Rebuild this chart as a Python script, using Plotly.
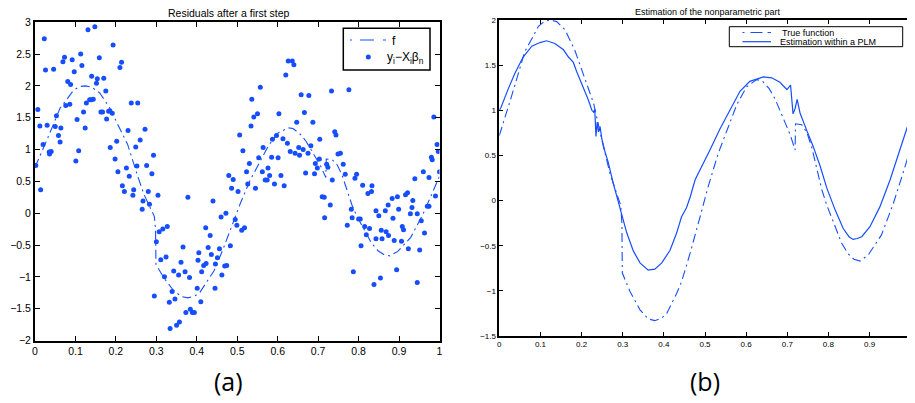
import plotly.graph_objects as go

# ---------------- data ----------------
# true nonparametric function f
f_x = [0.0, 0.01, 0.026, 0.038, 0.05, 0.062, 0.080, 0.095, 0.111, 0.125, 0.14, 0.16,
       0.184, 0.208, 0.229, 0.253, 0.269, 0.289, 0.295, 0.298, 0.299, 0.306, 0.318,
       0.342, 0.362, 0.378, 0.395, 0.407, 0.431, 0.443, 0.464, 0.488, 0.508, 0.532,
       0.553, 0.569, 0.577, 0.601, 0.626, 0.638, 0.656, 0.670, 0.690, 0.707, 0.719,
       0.720, 0.735, 0.747, 0.759, 0.771, 0.784, 0.796, 0.816, 0.832, 0.848, 0.862,
       0.877, 0.897, 0.913, 0.929, 0.944, 0.958, 0.981, 0.994, 1.0]
f_y = [0.72, 0.86, 1.10, 1.28, 1.47, 1.65, 1.80, 1.93, 1.99, 2.00, 1.98, 1.89,
       1.66, 1.34, 1.08, 0.60, 0.30, 0.03, -0.05, -0.25, -0.80, -0.88, -1.01,
       -1.21, -1.31, -1.33, -1.30, -1.25, -1.03, -0.90, -0.58, -0.18, 0.16, 0.52,
       0.78, 0.97, 1.06, 1.26, 1.34, 1.33, 1.24, 1.13, 0.91, 0.73, 0.56,
       0.85, 0.84, 0.76, 0.60, 0.36, 0.12, -0.05, -0.29, -0.47, -0.59, -0.65,
       -0.67, -0.60, -0.49, -0.38, -0.20, -0.03, 0.30, 0.50, 0.58]

# estimation within a PLM (right panel, solid)
est_x = [0.0, 0.004, 0.022, 0.038, 0.058, 0.079, 0.099, 0.115, 0.135, 0.156, 0.168,
         0.172, 0.176, 0.180, 0.188, 0.204, 0.216, 0.225, 0.229, 0.232, 0.235, 0.238,
         0.241, 0.245, 0.249, 0.257, 0.265, 0.277, 0.293, 0.310, 0.326, 0.342, 0.362,
         0.378, 0.395, 0.415, 0.431, 0.443, 0.455, 0.464, 0.476, 0.492, 0.512, 0.536,
         0.561, 0.585, 0.609, 0.642, 0.662, 0.682, 0.699, 0.708, 0.714, 0.719, 0.724,
         0.731, 0.747, 0.763, 0.780, 0.796, 0.816, 0.836, 0.850, 0.860, 0.870, 0.881,
         0.901, 0.925, 0.950, 0.974, 1.0]
est_y = [1.00, 1.03, 1.24, 1.41, 1.59, 1.71, 1.75, 1.77, 1.74, 1.67, 1.59,
         1.57, 1.56, 1.53, 1.43, 1.26, 1.12, 1.00, 0.98, 1.01, 0.71, 0.87,
         0.76, 0.82, 0.69, 0.54, 0.42, 0.19, -0.07, -0.36, -0.56, -0.69, -0.77,
         -0.76, -0.69, -0.55, -0.36, -0.18, -0.08, 0.04, 0.23, 0.37, 0.56, 0.79,
         1.01, 1.21, 1.32, 1.37, 1.36, 1.31, 1.23, 1.28, 0.96, 1.02, 1.12,
         0.97, 0.78, 0.60, 0.38, 0.14, -0.10, -0.31, -0.40, -0.43, -0.42, -0.40,
         -0.29, -0.07, 0.23, 0.56, 0.93]

# residuals y_i - X_i beta_n (left panel, dots)
res_x = [0.002, 0.007, 0.012, 0.014, 0.020, 0.023, 0.026, 0.030, 0.035, 0.036, 0.040,
         0.046, 0.050, 0.053, 0.058, 0.062, 0.064, 0.069, 0.073, 0.076, 0.081, 0.086,
         0.088, 0.092, 0.097, 0.101, 0.104, 0.108, 0.113, 0.116, 0.120, 0.124, 0.127,
         0.131, 0.135, 0.139, 0.144, 0.140, 0.148, 0.152, 0.154, 0.159, 0.163, 0.167,
         0.170, 0.175, 0.177, 0.182, 0.185, 0.186, 0.191, 0.193, 0.198, 0.202, 0.205,
         0.210, 0.214, 0.216, 0.221, 0.226, 0.230, 0.233, 0.238, 0.242, 0.244, 0.249,
         0.254, 0.252,
         0.272, 0.260, 0.293, 0.276, 0.289, 0.280, 0.304, 0.267, 0.283, 0.265, 0.378,
         0.440, 0.506, 0.479, 0.490, 0.486, 0.502, 0.472, 0.460, 0.495, 0.499, 0.422,
         0.327, 0.316, 0.307, 0.300, 0.433, 0.483, 0.366, 0.428, 0.405, 0.456, 0.324,
         0.311, 0.436, 0.403, 0.361, 0.423, 0.417, 0.451, 0.446, 0.469, 0.474, 0.343,
         0.371, 0.355, 0.382, 0.320, 0.412, 0.462, 0.339, 0.401, 0.445, 0.295, 0.346,
         0.332, 0.410, 0.384, 0.373, 0.389, 0.394, 0.357, 0.350, 0.334,
         0.514, 0.530, 0.523, 0.526, 0.545, 0.518, 0.511, 0.557, 0.536, 0.541, 0.550,
         0.534, 0.564, 0.553, 0.585, 0.601, 0.576, 0.562, 0.580, 0.569, 0.574, 0.592,
         0.608, 0.616, 0.587, 0.597, 0.613, 0.603, 0.624, 0.620, 0.626, 0.636, 0.640,
         0.631, 0.643, 0.647, 0.652, 0.654, 0.658, 0.666, 0.663, 0.675, 0.677, 0.682,
         0.687, 0.669, 0.691, 0.693, 0.698, 0.703, 0.704, 0.710, 0.715, 0.716, 0.730,
         0.733, 0.721, 0.724, 0.735, 0.741, 0.744, 0.749, 0.755,
         0.776, 0.762, 0.767, 0.791, 0.795, 0.810, 0.833, 0.832, 0.823, 0.782, 0.784,
         0.772, 0.800, 0.804, 0.815, 0.827, 0.806, 0.787, 0.819, 0.843, 0.850, 0.856,
         0.843, 0.858, 0.868, 0.874, 0.866, 0.873, 0.883, 0.885, 0.888, 0.896, 0.899,
         0.906, 0.908, 0.911, 0.916, 0.921, 0.934, 0.928, 0.932, 0.923, 0.939, 0.945,
         0.955, 0.951, 0.963, 0.960, 0.945, 0.970, 0.974, 0.974, 0.980, 0.982, 0.990,
         0.986, 0.994, 0.997, 0.838, 0.854, 0.894, 1.0]
res_y = [0.75, 1.63, 1.37, 0.37, 1.08, 2.74, 2.25, 1.38, 0.96, 0.93, 0.97,
         2.26, 1.36, 1.53, 1.22, 1.12, 1.34, 2.38, 2.45, 1.69, 2.07, 1.71,
         2.02, 2.41, 2.22, 0.82, 1.47, 0.98, 2.50, 2.32, 1.59, 1.34, 1.73,
         2.88, 1.78, 1.78, 1.79, 2.15, 2.93, 2.04, 2.11, 2.44, 1.59, 1.59,
         2.12, 1.92, 1.48, 1.60, 1.61, 1.03, 1.57, 2.64, 0.85, 1.13, 0.65,
         2.29, 2.37, 0.43, 0.34, 0.71, 1.30, 0.58, 1.73, 0.28, 0.37, 1.04,
         1.73, 0.74,
         1.32, 1.15, 0.91, 0.75, 0.62, 0.34, 0.28, 0.19, 0.14, 0.06, 0.25,
         0.19, 1.23, 0.59, 0.53, 0.39, 0.34, 0.00, -0.06, -0.10, -0.19, -0.23,
         -0.21, -0.25, -0.29, -0.45, -0.35, -0.51, -0.53, -0.54, -0.62, -0.56, -0.69,
         -0.73, -0.65, -0.74, -0.77, -0.79, -0.82, -0.70, -0.80, -0.83, -0.82, -0.91,
         -0.92, -0.97, -1.01, -1.00, -0.92, -0.97, -1.23, -1.18, -1.18, -1.30, -1.35,
         -1.40, -1.39, -1.51, -1.56, -1.56, -1.56, -1.71, -1.76, -1.81,
         0.98, 0.78, 0.65, 0.46, 0.39, -0.23, -0.27, 1.98, 1.79, 1.51, 1.56,
         1.37, 1.03, 0.87, 0.88, 0.87, 0.71, 0.65, 0.59, 0.52, 0.52, 0.46,
         0.59, 0.43, 1.16, 1.22, 1.17, 1.56, 1.10, 2.17, 2.39, 2.39, 2.33,
         0.97, 0.94, 1.43, 1.03, 0.91, 1.86, 1.58, 1.00, 0.94, 1.85, 1.06,
         1.43, 0.63, 0.62, 0.78, 0.71, 0.85, 1.16, 0.26, 0.25, -0.07, 0.13,
         1.92, 0.77, 0.72, 0.52, 1.28, 1.23, 0.93, 0.94,
         1.94, 0.77, 0.61, 0.55, 0.61, 0.44, 0.43, 0.34, 0.31, 0.06, -0.07,
         -0.19, -0.09, -0.09, -0.21, -0.24, -0.51, -0.92, -0.34, 0.04, -0.04, -0.27,
         -0.40, -0.40, -0.29, -0.35, 0.04, 0.13, 0.23, -0.08, -0.43, 0.26, 0.06,
         -0.44, -0.21, -0.26, 0.29, 0.32, 0.20, -0.01, 0.09, -0.56, 0.54, -0.01,
         -0.12, -0.58, -0.31, 0.65, -1.09, 0.11, 0.11, 0.56, 0.88, 0.84, 0.27,
         1.51, 1.08, 0.97, -1.12, -1.02, -0.89, 0.65]

left_title = "Residuals after a first step"
right_title = "Estimation of the nonparametric part"
left_names = ["f", "y<sub>i</sub>\u2212X<sub>i</sub>\u03b2<sub>n</sub>"]
right_names = ["True function", "Estimation within a PLM"]

# ---------------- figure ----------------
# the page body adds an 8px margin, so the figure is laid out 8px smaller
OFF = 8
W, H = 915 - OFF, 403 - OFF


def px(x):
    return (x - OFF) / W


def py(y):
    return 1 - (y - OFF) / H


BLUE = "rgb(22,78,255)"
DASHDOT = "9px,4px,2px,4px"
FONT = "Liberation Sans, Arial, sans-serif"

fig = go.Figure()

fig.add_trace(go.Scatter(x=f_x, y=f_y, mode="lines", name=left_names[0],
                         line=dict(color=BLUE, width=1.1, dash=DASHDOT),
                         xaxis="x", yaxis="y"))
fig.add_trace(go.Scatter(x=res_x, y=res_y, mode="markers", name=left_names[1],
                         marker=dict(color=BLUE, size=5),
                         xaxis="x", yaxis="y"))
fig.add_trace(go.Scatter(x=f_x, y=f_y, mode="lines", name=right_names[0],
                         line=dict(color=BLUE, width=1.1, dash=DASHDOT),
                         xaxis="x2", yaxis="y2"))
fig.add_trace(go.Scatter(x=est_x, y=est_y, mode="lines", name=right_names[1],
                         line=dict(color=BLUE, width=1.2),
                         xaxis="x2", yaxis="y2"))


def ax(domain, rng, dtick, size, lw, anchor, ticklen):
    return dict(domain=domain, range=rng, dtick=dtick, showgrid=False, zeroline=False,
                showline=True, linecolor="black", linewidth=lw, mirror="ticks",
                ticks="inside", ticklen=ticklen, tickwidth=1, tickcolor="black",
                ticklabeloverflow="allow",
                tickfont=dict(family=FONT, size=size, color="black"), anchor=anchor)


def hline(x0, x1, y, width, dash="solid"):
    return dict(type="line", xref="paper", yref="paper", x0=px(x0), x1=px(x1),
                y0=py(y), y1=py(y), line=dict(color=BLUE, width=width, dash=dash),
                layer="above")


# compact MATLAB-style legends (box, samples, labels)
shapes = [
    # left legend
    dict(type="rect", xref="paper", yref="paper", x0=px(343.3), x1=px(430),
         y0=py(70), y1=py(28.3), line=dict(color="black", width=1.5),
         fillcolor="white", layer="above"),
    hline(350, 386, 40, 1.1, "2px,8px,14px,9px,3px"),
    dict(type="circle", xref="paper", yref="paper", x0=px(365.8), x1=px(370.8),
         y0=py(59.5), y1=py(54.5), fillcolor=BLUE, line=dict(width=0), layer="above"),
    # right legend
    dict(type="rect", xref="paper", yref="paper", x0=px(729.3), x1=px(902.7),
         y0=py(46.7), y1=py(26.7), line=dict(color="black", width=1),
         fillcolor="white", layer="above"),
    hline(742.5, 771, 32.5, 1.1, "2px,6px,12px,5px,4px"),
    hline(742.5, 771, 41.7, 1.2),
]

annotations = [
    dict(text=left_title, x=px(229), y=py(13), font=dict(family=FONT, size=10.5, color="black")),
    dict(text=right_title, x=px(708), y=py(12.5), font=dict(family=FONT, size=9, color="black")),
    dict(text="(a)", x=px(228), y=py(381),
         font=dict(family="Open Sans, sans-serif", size=25, color="black")),
    dict(text="(b)", x=px(705), y=py(381),
         font=dict(family="Open Sans, sans-serif", size=25, color="black")),
    dict(text=left_names[0], x=px(389.5), y=py(40.5), xanchor="left",
         font=dict(family=FONT, size=12, color="black")),
    dict(text=left_names[1], x=px(384.5), y=py(57.5), xanchor="left",
         font=dict(family=FONT, size=12, color="black")),
    dict(text=right_names[0], x=px(780), y=py(32.5), xanchor="left",
         font=dict(family=FONT, size=9, color="black")),
    dict(text=right_names[1], x=px(778.3), y=py(41.7), xanchor="left",
         font=dict(family=FONT, size=9, color="black")),
]
for a in annotations:
    a.setdefault("xref", "paper")
    a.setdefault("yref", "paper")
    a.setdefault("showarrow", False)
    a.setdefault("xanchor", "center")
    a.setdefault("yanchor", "middle")
    a.setdefault("font", dict(family=FONT, size=11, color="black"))

fig.update_layout(
    width=W, height=H,
    margin=dict(l=0, r=0, t=0, b=0, autoexpand=False),
    paper_bgcolor="white", plot_bgcolor="white",
    showlegend=False,
    xaxis=ax([px(35), px(439.5)], [0, 1], 0.1, 10.5, 2, "y", 5),
    yaxis=ax([py(340.5), py(22.2)], [-2, 3], 0.5, 10.5, 2, "x", 5),
    xaxis2=ax([px(499.3), px(910.7)], [0, 1], 0.1, 8, 1.5, "y2", 4),
    yaxis2=ax([py(336), py(20)], [-1.5, 2], 0.5, 8, 1.5, "x2", 4),
    shapes=shapes,
    annotations=annotations,
)

fig.write_html("out.html")
